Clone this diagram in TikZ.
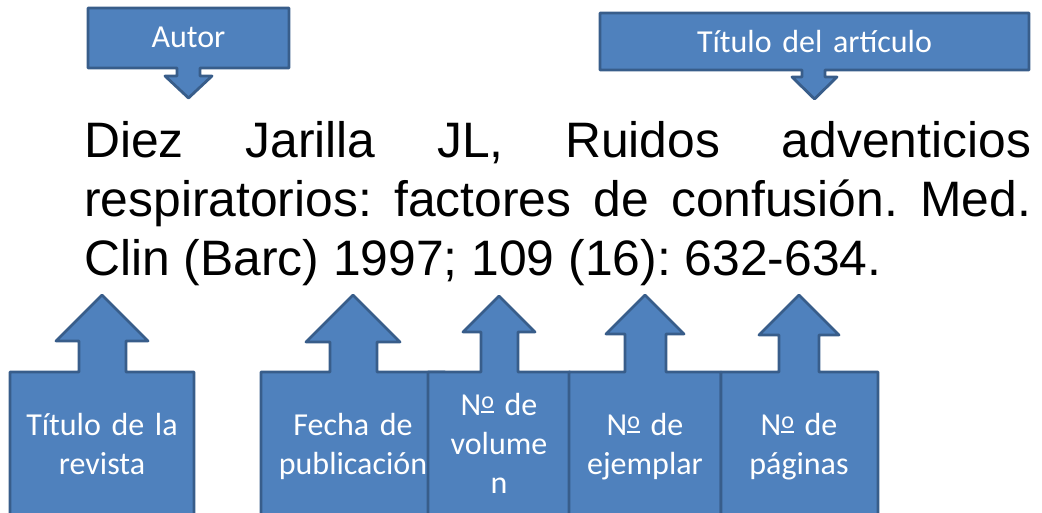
\documentclass[tikz,border=0pt]{standalone}
\usepackage{fontspec}
\newfontfamily\reffont{Liberation Sans}
\newfontfamily\lblfont{Carlito}
\definecolor{calloutfill}{HTML}{4F81BD}
\definecolor{calloutdraw}{HTML}{385D8A}
\newcommand\ordmark{\raisebox{2.5pt}{\vbox{\hbox{\fontsize{24}{24}\selectfont o}\kern2.2pt\hrule height 1.8pt}}}
\tikzset{
  callout/.style={fill=calloutfill, draw=calloutdraw, line width=2.8pt, line join=round},
  lbl/.style={text=white, inner sep=0pt, text width=200pt, align=center, anchor=base,
    font=\lblfont\fontsize{32}{39}\selectfont},
  reftext/.style={inner sep=0pt, text width=947pt, align=justify, anchor=base west,
    font=\reffont\fontsize{49.8}{59}\selectfont\frenchspacing}
}
\begin{document}
\begin{tikzpicture}[x=1pt,y=-1pt]
\useasboundingbox (0,0) rectangle (1042,513);
\clip (0,0) rectangle (1042,513);
% top callouts (arrow down)
\draw[callout] (88,8) -- (289,8) -- (289,68) -- (200,68) -- (200,76) -- (212,76) -- (188.5,98)
  -- (165,76) -- (177,76) -- (177,68) -- (88,68) -- cycle;
\node[lbl] (autor) at (188.5,48) {Autor};
\draw[callout] (600,13) -- (1029,13) -- (1029,70) -- (825,70) -- (825,77) -- (837,77) -- (814.5,99)
  -- (792,77) -- (802,77) -- (802,70) -- (600,70) -- cycle;
\node[lbl, text width=300pt] (titulo) at (814.5,53) {Título del artículo};
% reference text
\node[reftext] (ref) at (84,158) {Diez Jarilla JL, Ruidos adventicios\linebreak respiratorios: factores de confusión. Med.\linebreak Clin (Barc) 1997; 109 (16): 632-634.};
% bottom callouts (arrow up)
\draw[callout] (10,522) -- (10,372) -- (79,372) -- (79,341) -- (56,341) -- (102,295) -- (148,341)
  -- (126,341) -- (126,372) -- (194,372) -- (194,522) -- cycle;
\node[lbl] (revista) at (102,435) {Título de la\\revista};
\draw[callout] (261,522) -- (261,372) -- (330,372) -- (330,342) -- (306,342) -- (353,295) -- (400,342)
  -- (377,342) -- (377,372) -- (445,372) -- (445,522) -- cycle;
\node[lbl] (fecha) at (353,435) {Fecha de\\publicación};
\draw[callout] (428,522) -- (428,372) -- (481,372) -- (481,332) -- (463,332) -- (499,296) -- (535,332)
  -- (518,332) -- (518,372) -- (570,372) -- (570,522) -- cycle;
\node[lbl] (volumen) at (499,415) {N\ordmark{} de\\volume\\n};
\draw[callout] (569,522) -- (569,372) -- (625,372) -- (625,334) -- (606,334) -- (645,295) -- (684,334)
  -- (666,334) -- (666,372) -- (721,372) -- (721,522) -- cycle;
\node[lbl] (ejemplar) at (645,435) {N\ordmark{} de\\ejemplar};
\draw[callout] (721,522) -- (721,372) -- (779,372) -- (779,335) -- (759,335) -- (799,295) -- (839,335)
  -- (819,335) -- (819,372) -- (878,372) -- (878,522) -- cycle;
\node[lbl] (paginas) at (799,435) {N\ordmark{} de\\páginas};
\end{tikzpicture}
\end{document}
